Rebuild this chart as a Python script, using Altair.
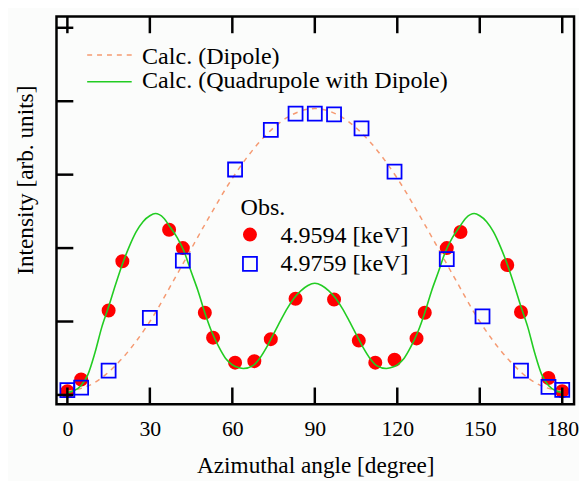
import altair as alt
import pandas as pd

# ---------------- data ----------------
x_ticks = [0, 30, 60, 90, 120, 150, 180]
y_ticks = [0, 1, 2, 3, 4, 5]

# Obs. 4.9594 keV (red filled circles)
red_x = [0, 5, 15, 20, 37, 42, 50, 53, 61, 68, 74, 83,
         97, 106, 112, 119, 127, 130, 138, 143, 160, 165, 175, 180]
red_y = [0.05, 0.21, 1.15, 1.82, 2.25, 2.0, 1.12, 0.78, 0.44, 0.46, 0.76, 1.31,
         1.30, 0.74, 0.44, 0.48, 0.77, 1.12, 2.0, 2.22, 1.77, 1.13, 0.23, 0.05]

# Obs. 4.9759 keV (blue open squares)
blue_x = [0, 5, 15, 30, 42, 61, 74, 83, 90, 97, 107, 119, 138, 151, 165, 175, 180]
blue_y = [0.065, 0.10, 0.33, 1.05, 1.83, 3.07, 3.61, 3.83, 3.83, 3.82, 3.63, 3.04,
          1.85, 1.07, 0.33, 0.11, 0.07]

# Calc. (Dipole) dashed curve
dip_x = [0, 10, 20, 30, 40, 50, 60, 70, 80, 90, 100, 110, 120, 130, 140, 150, 160, 170, 180]
dip_y = [0.05, 0.17, 0.5, 1.0, 1.65, 2.32, 2.95, 3.45, 3.78, 3.9, 3.78, 3.45, 2.95,
         2.32, 1.65, 1.0, 0.5, 0.17, 0.05]

# Calc. (Quadrupole with Dipole) green curve
quad_x = [0, 2.5, 5, 7.5, 10, 12.5, 15, 17.5, 20, 22.5, 25, 27.5, 30, 32, 35, 37.5,
          40, 42.5, 45, 47.5, 50, 52.5, 55, 57.5, 60, 62.5, 64, 67.5, 70, 72.5, 75,
          77.5, 80, 82.5, 85, 87.5, 90,
          92.5, 95, 97.5, 100, 102.5, 105, 107.5, 110, 112.5, 116, 117.5, 120, 122.5,
          125, 127.5, 130, 132.5, 135, 137.5, 140, 142.5, 145, 148, 150, 152.5, 155,
          157.5, 160, 162.5, 165, 167.5, 170, 172.5, 175, 177.5, 180]
quad_y = [0.03, 0.06, 0.13, 0.28, 0.57, 0.92, 1.2, 1.5, 1.78, 2.02, 2.22, 2.36, 2.44,
          2.47, 2.41, 2.28, 2.14, 1.95, 1.68, 1.42, 1.12, 0.86, 0.66, 0.5, 0.41, 0.37,
          0.36, 0.4, 0.5, 0.65, 0.83, 1.01, 1.18, 1.32, 1.42, 1.49, 1.52,
          1.49, 1.42, 1.32, 1.18, 1.01, 0.83, 0.65, 0.5, 0.4, 0.36, 0.37, 0.41, 0.5,
          0.66, 0.86, 1.12, 1.42, 1.68, 1.95, 2.14, 2.28, 2.41, 2.47, 2.44, 2.36,
          2.22, 2.02, 1.78, 1.5, 1.2, 0.92, 0.57, 0.28, 0.13, 0.06, 0.03]

# ---------------- styling ----------------
FONT = "Liberation Serif"
W, H = 523, 392
xs = alt.Scale(domain=[-3.96, 184.3], nice=False, zero=False)
ys = alt.Scale(domain=[-0.128, 5.155], nice=False, zero=False)
TICK = 17
RED, BLUE, ORANGE, GREEN = "#ff0000", "#0000ff", "#f59a72", "#22cc22"

red_df = pd.DataFrame({"x": red_x, "y": red_y})
blue_df = pd.DataFrame({"x": blue_x, "y": blue_y})
dip_df = pd.DataFrame({"x": dip_x, "y": dip_y})
quad_df = pd.DataFrame({"x": quad_x, "y": quad_y})
xt_df = pd.DataFrame({"t": x_ticks})
yt_df = pd.DataFrame({"t": y_ticks})
one = alt.Data(values=[{}])

x_axis = alt.Axis(values=x_ticks, ticks=False, tickSize=0, domain=False, grid=False,
                  labelFont=FONT, labelFontSize=22, labelColor="black",
                  labelPadding=32, labelBaseline="alphabetic", labelFlush=False,
                  title="Azimuthal angle [degree]", titleFont=FONT, titleFontSize=23.5,
                  titleFontWeight="normal", titleColor="black",
                  titleBaseline="alphabetic", titleY=69)
y_axis = alt.Axis(values=y_ticks, labels=False, ticks=False, tickSize=0, domain=False,
                  grid=False, title="Intensity [arb. units]", titleFont=FONT,
                  titleFontSize=23.5, titleFontWeight="normal", titleColor="black",
                  titleAngle=270, titleBaseline="alphabetic", titleAlign="center",
                  titleX=-24, titleY=165)


def X(f):
    return alt.X(f, scale=xs, axis=x_axis)


def Y(f):
    return alt.Y(f, scale=ys, axis=y_axis)


red = alt.Chart(red_df).mark_circle(size=200, color=RED, opacity=1).encode(
    x=X("x:Q"), y=Y("y:Q"))
dip = alt.Chart(dip_df).mark_line(color=ORANGE, strokeWidth=1.5, strokeDash=[5, 5],
                                  interpolate="monotone").encode(x=X("x:Q"), y=Y("y:Q"))
quad = alt.Chart(quad_df).mark_line(color=GREEN, strokeWidth=1.6,
                                    interpolate="monotone").encode(x=X("x:Q"), y=Y("y:Q"))
blue = alt.Chart(blue_df).mark_point(shape="square", filled=False, size=200,
                                     color=BLUE, strokeWidth=1.8, opacity=1).encode(
    x=X("x:Q"), y=Y("y:Q"))

# inward ticks
tick_style = dict(color="black", strokeWidth=2.5)
bt = alt.Chart(xt_df).mark_rule(**tick_style).encode(
    x=X("t:Q"), y=alt.value(H - TICK), y2=alt.value(H))
tt = alt.Chart(xt_df).mark_rule(**tick_style).encode(
    x=X("t:Q"), y=alt.value(0), y2=alt.value(TICK))
lt = alt.Chart(yt_df).mark_rule(**tick_style).encode(
    y=Y("t:Q"), x=alt.value(0), x2=alt.value(TICK))


# legend
def txt(s, x, y):
    return alt.Chart(one).mark_text(text=s, font=FONT, fontSize=24.3, color="black",
                                    align="left", baseline="alphabetic").encode(
        x=alt.value(x), y=alt.value(y))


leg_dip = alt.Chart(one).mark_rule(color=ORANGE, strokeWidth=1.5,
                                   strokeDash=[5, 5]).encode(
    x=alt.value(31), x2=alt.value(76), y=alt.value(39))
leg_quad = alt.Chart(one).mark_rule(color=GREEN, strokeWidth=1.6).encode(
    x=alt.value(31), x2=alt.value(76), y=alt.value(66))
leg_red = alt.Chart(one).mark_circle(size=200, color=RED, opacity=1).encode(
    x=alt.value(195.5), y=alt.value(220.5))
leg_blue = alt.Chart(one).mark_point(shape="square", filled=False, size=200,
                                     color=BLUE, strokeWidth=1.8, opacity=1).encode(
    x=alt.value(195.5), y=alt.value(250))

chart = alt.layer(
    red, dip, quad, blue, bt, tt, lt,
    leg_dip, leg_quad,
    txt("Calc. (Dipole)", 86.5, 47.7),
    txt("Calc. (Quadrupole with Dipole)", 86.5, 72.7),
    txt("Obs.", 186, 201),
    leg_red, leg_blue,
    txt("4.9594 [keV]", 226.3, 229.3),
    txt("4.9759 [keV]", 226.3, 257.7),
).properties(
    width=W, height=H,
    autosize=alt.AutoSizeParams(type="none"),
    padding={"left": 49, "top": 6, "right": 5, "bottom": 78},
    background="#fbfcfb",
).configure_view(stroke="black", strokeWidth=2.5)

chart.save("out.html", embed_options={"renderer": "svg", "actions": False})
